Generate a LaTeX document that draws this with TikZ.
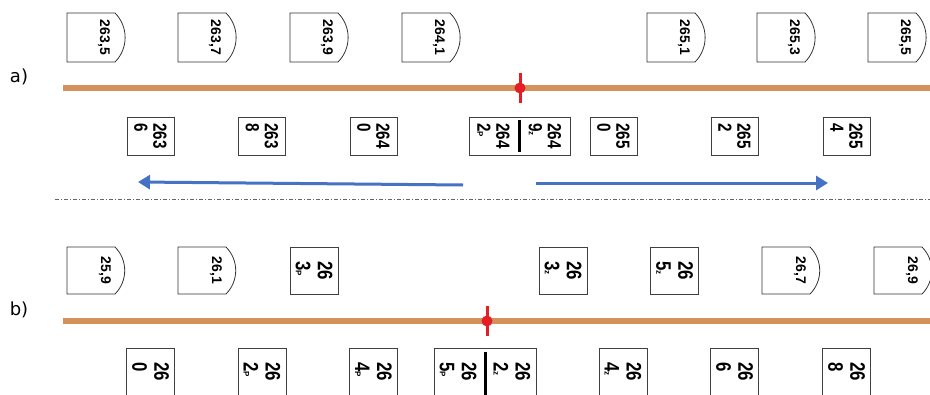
\documentclass[tikz,border=0pt]{standalone}
\usepackage{fontspec}
\setmainfont{Liberation Sans}
\newfontfamily\labfont{DejaVu Sans}
\newfontfamily\boxfont[FakeStretch=0.8]{Liberation Sans}
\usetikzlibrary{arrows.meta}

\definecolor{track}{RGB}{212,145,90}
\definecolor{markred}{RGB}{227,30,36}
\definecolor{arrblue}{RGB}{68,114,196}
\newcommand\sfx[1]{{\rmfamily\bfseries\fontsize{8}{8}\selectfont #1}}

\begin{document}
\begin{tikzpicture}[x=1pt, y=-1pt,
  font=\bfseries\fontsize{14}{14}\selectfont,
  tg/.style={rotate=-90, inner sep=0pt},
  tgline/.style={draw=black!80, line width=0.8pt},
  bx/.style={draw=black!75, line width=0.8pt, rotate=-90, align=left, inner sep=0pt, font=\boxfont\bfseries\fontsize{19}{19}\selectfont, minimum width=38pt, minimum height=47pt},
  bxb/.style={bx, font=\boxfont\bfseries\fontsize{21}{22}\selectfont, minimum width=47pt, minimum height=48pt},
  dbx/.style={draw=black!75, line width=0.8pt, minimum width=101pt, minimum height=38pt},
  half/.style={rotate=-90, align=left, inner sep=0pt, font=\boxfont\bfseries\fontsize{19}{19}\selectfont},
  halfb/.style={half, font=\boxfont\bfseries\fontsize{21}{22}\selectfont},
  sep/.style={line width=3pt},
  trk/.style={draw=track, line width=6pt},
  mk/.style={circle, fill=markred, inner sep=0pt, minimum size=11pt},
  mkline/.style={draw=markred, line width=3pt},
  arr/.style={-{Triangle[length=12pt, width=14pt]}, draw=arrblue, line width=3pt},
  lab/.style={font=\labfont\fontsize{18}{18}\selectfont},
]
\useasboundingbox (0,0) rectangle (930,394);

% a) -------------------------------------------------
\node[lab] (la) at (19,77) {a)};
\node[tg] (ta1) at (104,37.5) {263,5};
\node[tg] (ta2) at (215,37.5) {263,7};
\node[tg] (ta3) at (327,37.5) {263,9};
\node[tg] (ta4) at (439,37.5) {264,1};
\node[tg] (ta5) at (684,37.5) {265,1};
\node[tg] (ta6) at (794,37.5) {265,3};
\node[tg] (ta7) at (905,37.5) {265,5};
\foreach \t in {ta1,ta2,ta3,ta4,ta5,ta6,ta7}
  \draw[tgline] ([shift={(-37,-24.5)}]\t.center) -- ++(48,0) to[bend left=45] ++(0,49) -- ++(-48,0) -- cycle;

\coordinate (tra0) at (63,88);
\coordinate (tra1) at (930,88);
\draw[trk] (tra0) -- (tra1);
\coordinate (mka0) at (520,73);
\coordinate (mka1) at (520,103);
\draw[mkline] (mka0) -- (mka1);
\node[mk] (mka) at (520,88) {};

\node[bx] (ba1) at (150.5,136) {263\\6};
\node[bx] (ba2) at (262,136) {263\\8};
\node[bx] (ba3) at (373.5,136) {264\\0};
\node[dbx] (ba4) at (519.5,136) {};
\node[half] (ba4l) at (493.5,136) {264\\2\sfx{P}};
\node[half] (ba4r) at (545,136) {264\\9\sfx{z}};
\draw[sep] ([yshift=-3pt]ba4.north) -- ([yshift=3pt]ba4.south);
\node[bx] (ba5) at (613.5,136) {265\\0};
\node[bx] (ba6) at (734.5,136) {265\\2};
\node[bx] (ba7) at (846.5,136) {265\\4};

\coordinate (arl0) at (463,185);
\coordinate (arl1) at (138,182);
\coordinate (arr0) at (536,183);
\coordinate (arr1) at (828,183);
\draw[arr] (arl0) -- (arl1);
\draw[arr] (arr0) -- (arr1);

\coordinate (dl0) at (55,199);
\coordinate (dl1) at (930,199);
\draw[black!60, line width=0.8pt, dash pattern=on 4pt off 2pt on 1pt off 2pt] (dl0) -- (dl1);

% b) -------------------------------------------------
\node[lab] (lb) at (19,310) {b)};
\node[tg] (tb1) at (105,270.5) {25,9};
\node[tg] (tb2) at (216,270.5) {26,1};
\node[tg] (tb3) at (800,270.5) {26,7};
\node[tg] (tb4) at (912,270.5) {26,9};
\foreach \t in {tb1,tb2,tb3,tb4}
  \draw[tgline] ([shift={(-38,-23.5)}]\t.center) -- ++(48,0) to[bend left=45] ++(0,47) -- ++(-48,0) -- cycle;
\node[bxb] (bb1) at (314,270.5) {26\\3\sfx{P}};
\node[bxb] (bb2) at (563,270.5) {26\\3\sfx{z}};
\node[bxb] (bb3) at (674.5,270.5) {26\\5\sfx{z}};

\coordinate (trb0) at (63,321);
\coordinate (trb1) at (930,321);
\draw[trk] (trb0) -- (trb1);
\coordinate (mkb0) at (487,306);
\coordinate (mkb1) at (487,336);
\draw[mkline] (mkb0) -- (mkb1);
\node[mk] (mkb) at (487,321) {};

\node[bxb] (bc1) at (150.5,371.5) {26\\0};
\node[bxb] (bc2) at (262,371.5) {26\\2\sfx{P}};
\node[bxb] (bc3) at (373.5,371.5) {26\\4\sfx{P}};
\node[dbx, minimum width=102pt, minimum height=47pt] (bc4) at (485,371.5) {};
\node[halfb] (bc4l) at (458,371.5) {26\\5\sfx{P}};
\node[halfb] (bc4r) at (512,371.5) {26\\2\sfx{z}};
\draw[sep] ([yshift=-4pt]bc4.north) -- (bc4.south);
\node[bxb] (bc5) at (623,371.5) {26\\4\sfx{z}};
\node[bxb] (bc6) at (734.5,371.5) {26\\6};
\node[bxb] (bc7) at (846.5,371.5) {26\\8};
\end{tikzpicture}
\end{document}
